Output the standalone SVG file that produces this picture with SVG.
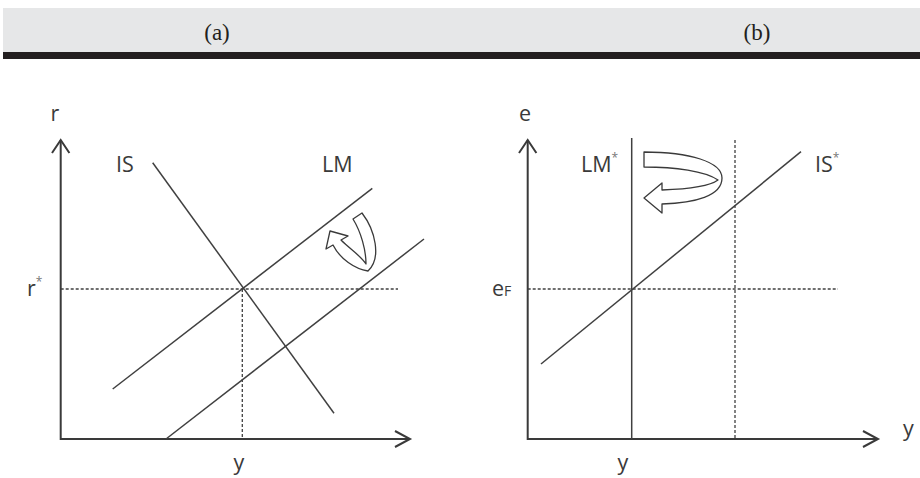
<svg xmlns="http://www.w3.org/2000/svg" width="920" height="478" viewBox="0 0 920 478">
<style>
.hdr{font-family:"Liberation Serif",serif;font-size:23px;fill:#231f20;text-anchor:middle}
.lbl{font-family:"Open Sans","Liberation Sans",sans-serif;font-size:21.5px;fill:#3a3a3a}
.sup{font-size:12px;fill:#777}
.axis{stroke:#3a3a3a;stroke-width:2;fill:none}
.ln{stroke:#404040;stroke-width:1.5;fill:none}
.dash{stroke:#404040;stroke-width:1.3;stroke-dasharray:3 2;fill:none}
.turn{stroke:#3a3a3a;stroke-width:1.3;fill:#fff;stroke-linejoin:round}
</style>
<rect width="920" height="478" fill="#fff"/>
<g id="header">
<rect x="3" y="8" width="917" height="44" fill="#e6e7e8"/>
<rect x="3" y="52" width="917" height="7" fill="#231f20"/>
<text class="hdr" x="217" y="40">(a)</text>
<text class="hdr" x="757" y="40">(b)</text>
</g>
<g id="panel-a">
<g id="axes-a">
<path class="axis" d="M60.7 140 V439 H410"/>
<path class="axis" d="M52 153 L60.7 140 L69.4 153"/>
<path class="axis" d="M395 431 L410 439 L395 447"/>
</g>
<g id="guides-a">
<path class="dash" d="M60.7 289 H398"/>
<path class="dash" d="M242.3 289 V439"/>
</g>
<g id="IS"><path class="ln" d="M152.7 162.7 L334 413.3"/></g>
<g id="LM1"><path class="ln" d="M112.7 389 L372.3 188.3"/></g>
<g id="LM2"><path class="ln" d="M166 439 L424 239"/></g>
<g id="shift-a">
<path class="turn" d="M353 219 L362 213 C375 230 382 258 368 271 C355 269 340 259 333 245 L326 249 L330 231 L348 236 L341 240 C350 249 361 256 366 264 C366 250 361 232 353 219 Z"/>
</g>
<g id="labels-a">
<text class="lbl" x="55" y="121" text-anchor="middle">r</text>
<text class="lbl" x="27" y="296">r<tspan class="sup" dy="-10">*</tspan></text>
<text class="lbl" x="116" y="172">IS</text>
<text class="lbl" x="322" y="172">LM</text>
<text class="lbl" x="239" y="470" text-anchor="middle">y</text>
</g>
</g>
<g id="panel-b">
<g id="axes-b">
<path class="axis" d="M527.7 140 V439 H878"/>
<path class="axis" d="M519 153 L527.7 140 L536.4 153"/>
<path class="axis" d="M863 431 L878 439 L863 447"/>
</g>
<g id="guides-b">
<path class="dash" d="M527.7 289 H838"/>
<path class="dash" d="M735 140 V439"/>
</g>
<g id="LMstar"><path class="ln" d="M631.7 138 V439"/></g>
<g id="ISstar"><path class="ln" d="M541 364 L801 151.7"/></g>
<g id="shift-b">
<path class="turn" d="M644 152 C690 152 722 162 722 178 C722 196 695 203 662 204 L662 213 L644 198 L662 183 L662 190 C690 189 710 186 718 180 C705 171 675 167 644 167 Z"/>
</g>
<g id="labels-b">
<text class="lbl" x="525" y="121" text-anchor="middle">e</text>
<text class="lbl" x="492" y="296">e<tspan font-size="14">F</tspan></text>
<text class="lbl" x="581" y="172">LM<tspan class="sup" dy="-10">*</tspan></text>
<text class="lbl" x="815" y="172">IS<tspan class="sup" dy="-10">*</tspan></text>
<text class="lbl" x="903" y="436">y</text>
<text class="lbl" x="623" y="470" text-anchor="middle">y</text>
</g>
</g>
</svg>
